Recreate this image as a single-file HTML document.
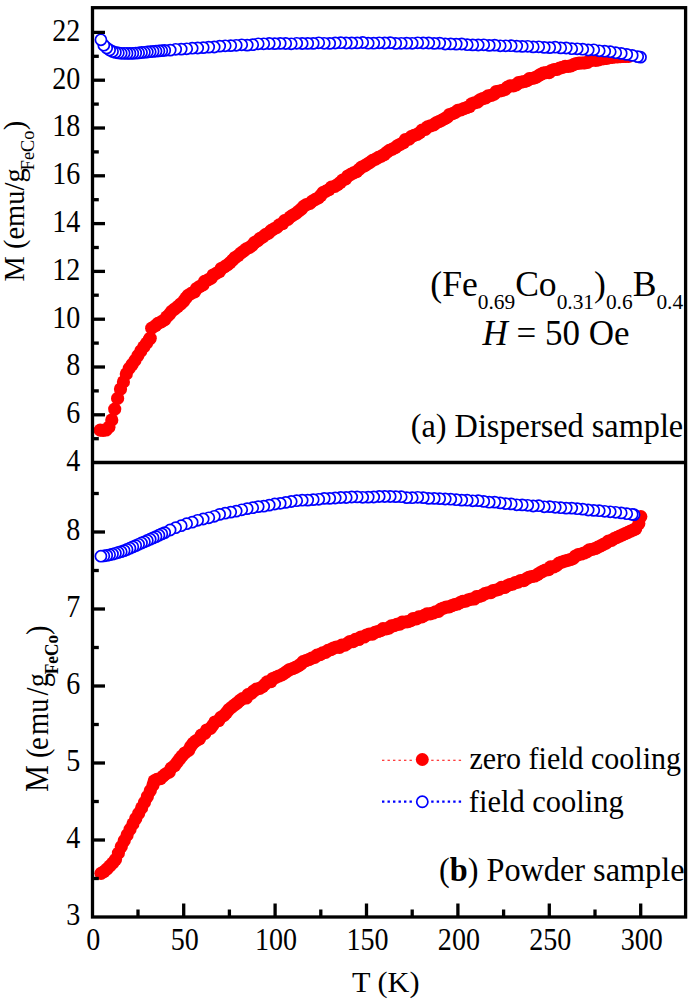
<!DOCTYPE html>
<html lang="en"><head><meta charset="utf-8"><title>M(T) ZFC / FC</title>
<style>html,body{margin:0;padding:0;background:#fff}svg{display:block}text{font-family:"Liberation Serif",serif;fill:#000}</style></head><body>
<svg width="691" height="1000" viewBox="0 0 691 1000">
<rect width="691" height="1000" fill="#fff"/>
<!-- panel (a): zero field cooling -->
<g fill="#f00">
<circle cx="100.2" cy="430.2" r="6.6"/>
<circle cx="103.1" cy="430.4" r="6.6"/>
<circle cx="106" cy="430" r="6.6"/>
<circle cx="108.9" cy="427.2" r="6.6"/>
<circle cx="111.8" cy="419.9" r="6.6"/>
<circle cx="114.7" cy="409.1" r="6.6"/>
<circle cx="117.6" cy="398.4" r="6.6"/>
<circle cx="120.5" cy="389" r="6.6"/>
<circle cx="123.4" cy="381.9" r="6.6"/>
<circle cx="126.3" cy="373.9" r="6.6"/>
<circle cx="129.2" cy="368.4" r="6.6"/>
<circle cx="132.1" cy="364.5" r="6.6"/>
<circle cx="135" cy="360.3" r="6.6"/>
<circle cx="137.9" cy="355.6" r="6.6"/>
<circle cx="140.8" cy="351" r="6.6"/>
<circle cx="143.7" cy="346.9" r="6.6"/>
<circle cx="146.6" cy="343.1" r="6.6"/>
<circle cx="149.5" cy="339.1" r="6.6"/>
<circle cx="150.2" cy="338.2" r="6.6"/>
<circle cx="151.7" cy="328.2" r="6.6"/>
<circle cx="155.5" cy="325.7" r="6.6"/>
<circle cx="158" cy="323.3" r="6.6"/>
<circle cx="161.2" cy="321.9" r="6.6"/>
<circle cx="164.5" cy="319.9" r="6.6"/>
<circle cx="166.7" cy="316.9" r="6.6"/>
<circle cx="169.4" cy="314.4" r="6.6"/>
<circle cx="171.6" cy="311.3" r="6.6"/>
<circle cx="174.6" cy="309" r="6.6"/>
<circle cx="177.6" cy="306.6" r="6.6"/>
<circle cx="180.6" cy="304" r="6.6"/>
<circle cx="183.5" cy="301.4" r="6.6"/>
<circle cx="185.8" cy="298.2" r="6.6"/>
<circle cx="188.1" cy="295.4" r="6.6"/>
<circle cx="191.2" cy="293.3" r="6.6"/>
<circle cx="194.6" cy="291.8" r="6.6"/>
<circle cx="196.6" cy="288.5" r="6.6"/>
<circle cx="199.6" cy="286.5" r="6.6"/>
<circle cx="202.9" cy="284.9" r="6.6"/>
<circle cx="204.6" cy="281.4" r="6.6"/>
<circle cx="208" cy="279.9" r="6.6"/>
<circle cx="211.2" cy="278.2" r="6.6"/>
<circle cx="213.1" cy="275" r="6.6"/>
<circle cx="216.2" cy="273.4" r="6.6"/>
<circle cx="219.4" cy="271.7" r="6.6"/>
<circle cx="221.2" cy="268.5" r="6.6"/>
<circle cx="224.4" cy="266.8" r="6.6"/>
<circle cx="227.4" cy="264.9" r="6.6"/>
<circle cx="230.1" cy="262.6" r="6.6"/>
<circle cx="232.6" cy="260.1" r="6.6"/>
<circle cx="235.1" cy="257.5" r="6.6"/>
<circle cx="238.1" cy="255.6" r="6.6"/>
<circle cx="240.8" cy="253.2" r="6.6"/>
<circle cx="243.6" cy="251.2" r="6.6"/>
<circle cx="246.3" cy="248.9" r="6.6"/>
<circle cx="249.5" cy="247.4" r="6.6"/>
<circle cx="252.2" cy="245.3" r="6.6"/>
<circle cx="254.5" cy="242.5" r="6.6"/>
<circle cx="257.5" cy="240.9" r="6.6"/>
<circle cx="259.9" cy="238.5" r="6.6"/>
<circle cx="262.9" cy="236.8" r="6.6"/>
<circle cx="265.5" cy="234.6" r="6.6"/>
<circle cx="268.6" cy="233.1" r="6.6"/>
<circle cx="271" cy="230.7" r="6.6"/>
<circle cx="273.9" cy="228.9" r="6.6"/>
<circle cx="276.9" cy="227.3" r="6.6"/>
<circle cx="279.3" cy="224.9" r="6.6"/>
<circle cx="282.6" cy="223.6" r="6.6"/>
<circle cx="284.6" cy="220.6" r="6.6"/>
<circle cx="287.9" cy="219.4" r="6.6"/>
<circle cx="290.3" cy="216.9" r="6.6"/>
<circle cx="293.1" cy="215" r="6.6"/>
<circle cx="296" cy="213.3" r="6.6"/>
<circle cx="298.7" cy="211.1" r="6.6"/>
<circle cx="301.3" cy="209" r="6.6"/>
<circle cx="303.6" cy="206.4" r="6.6"/>
<circle cx="306.5" cy="204.5" r="6.6"/>
<circle cx="309.9" cy="203.4" r="6.6"/>
<circle cx="312.4" cy="201.1" r="6.6"/>
<circle cx="315.4" cy="199.4" r="6.6"/>
<circle cx="318.4" cy="197.8" r="6.6"/>
<circle cx="320.8" cy="195.5" r="6.6"/>
<circle cx="322.9" cy="192.7" r="6.6"/>
<circle cx="326" cy="191.1" r="6.6"/>
<circle cx="329" cy="189.6" r="6.6"/>
<circle cx="331.4" cy="187.2" r="6.6"/>
<circle cx="334.9" cy="186.4" r="6.6"/>
<circle cx="337.6" cy="184.5" r="6.6"/>
<circle cx="340.3" cy="182.5" r="6.6"/>
<circle cx="342.6" cy="180.1" r="6.6"/>
<circle cx="345.7" cy="178.8" r="6.6"/>
<circle cx="347.8" cy="176" r="6.6"/>
<circle cx="350.7" cy="174.4" r="6.6"/>
<circle cx="353.6" cy="172.9" r="6.6"/>
<circle cx="356.6" cy="171.6" r="6.6"/>
<circle cx="359.1" cy="169.4" r="6.6"/>
<circle cx="361.6" cy="167.2" r="6.6"/>
<circle cx="364.5" cy="165.8" r="6.6"/>
<circle cx="367.2" cy="164.1" r="6.6"/>
<circle cx="370" cy="162.3" r="6.6"/>
<circle cx="372.6" cy="160.4" r="6.6"/>
<circle cx="375.6" cy="159.1" r="6.6"/>
<circle cx="378.4" cy="157.4" r="6.6"/>
<circle cx="381.4" cy="156.2" r="6.6"/>
<circle cx="384.2" cy="154.5" r="6.6"/>
<circle cx="386.7" cy="152.3" r="6.6"/>
<circle cx="389.4" cy="150.4" r="6.6"/>
<circle cx="392.4" cy="149.1" r="6.6"/>
<circle cx="395.3" cy="147.6" r="6.6"/>
<circle cx="397.8" cy="145.5" r="6.6"/>
<circle cx="400.7" cy="144" r="6.6"/>
<circle cx="403.6" cy="142.6" r="6.6"/>
<circle cx="405.5" cy="139.5" r="6.6"/>
<circle cx="409" cy="139.2" r="6.6"/>
<circle cx="411.2" cy="136.7" r="6.6"/>
<circle cx="414.1" cy="135.4" r="6.6"/>
<circle cx="417.2" cy="134.3" r="6.6"/>
<circle cx="419.8" cy="132.6" r="6.6"/>
<circle cx="422.1" cy="130.2" r="6.6"/>
<circle cx="425.3" cy="129.4" r="6.6"/>
<circle cx="427.5" cy="126.9" r="6.6"/>
<circle cx="430.5" cy="125.8" r="6.6"/>
<circle cx="433.7" cy="124.9" r="6.6"/>
<circle cx="436.1" cy="122.8" r="6.6"/>
<circle cx="439" cy="121.5" r="6.6"/>
<circle cx="441.9" cy="120.1" r="6.6"/>
<circle cx="444.7" cy="118.7" r="6.6"/>
<circle cx="447.4" cy="117.1" r="6.6"/>
<circle cx="449.5" cy="114.5" r="6.6"/>
<circle cx="452.6" cy="113.7" r="6.6"/>
<circle cx="455.4" cy="112.4" r="6.6"/>
<circle cx="457.8" cy="110.4" r="6.6"/>
<circle cx="460.9" cy="109.8" r="6.6"/>
<circle cx="463.7" cy="108.6" r="6.6"/>
<circle cx="466.7" cy="107.6" r="6.6"/>
<circle cx="469.5" cy="106.5" r="6.6"/>
<circle cx="471.6" cy="103.9" r="6.6"/>
<circle cx="474.4" cy="102.8" r="6.6"/>
<circle cx="477.5" cy="102.1" r="6.6"/>
<circle cx="479.9" cy="99.9" r="6.6"/>
<circle cx="482.7" cy="98.7" r="6.6"/>
<circle cx="485.7" cy="97.9" r="6.6"/>
<circle cx="488.1" cy="95.8" r="6.6"/>
<circle cx="491.4" cy="95.4" r="6.6"/>
<circle cx="494.2" cy="94.1" r="6.6"/>
<circle cx="496.3" cy="91.5" r="6.6"/>
<circle cx="499.4" cy="91" r="6.6"/>
<circle cx="502.4" cy="90.3" r="6.6"/>
<circle cx="505.2" cy="89.4" r="6.6"/>
<circle cx="507.5" cy="87.1" r="6.6"/>
<circle cx="510.2" cy="85.8" r="6.6"/>
<circle cx="513.4" cy="85.9" r="6.6"/>
<circle cx="516.2" cy="84.9" r="6.6"/>
<circle cx="518.5" cy="82.7" r="6.6"/>
<circle cx="521.4" cy="82.1" r="6.6"/>
<circle cx="524.3" cy="81.5" r="6.6"/>
<circle cx="527.1" cy="80.7" r="6.6"/>
<circle cx="529.4" cy="78.6" r="6.6"/>
<circle cx="532.5" cy="78.4" r="6.6"/>
<circle cx="535.3" cy="77.6" r="6.6"/>
<circle cx="537.9" cy="76.1" r="6.6"/>
<circle cx="540.4" cy="74.5" r="6.6"/>
<circle cx="543.1" cy="73.2" r="6.6"/>
<circle cx="546" cy="72.7" r="6.6"/>
<circle cx="549.1" cy="72.7" r="6.6"/>
<circle cx="551.4" cy="70.5" r="6.6"/>
<circle cx="554.1" cy="69.6" r="6.6"/>
<circle cx="557.1" cy="69.3" r="6.6"/>
<circle cx="559.7" cy="68" r="6.6"/>
<circle cx="562.5" cy="67.3" r="6.6"/>
<circle cx="565.2" cy="66.3" r="6.6"/>
<circle cx="568.2" cy="66.4" r="6.6"/>
<circle cx="571" cy="65.9" r="6.6"/>
<circle cx="573.6" cy="64.7" r="6.6"/>
<circle cx="576.2" cy="63.5" r="6.6"/>
<circle cx="579.1" cy="63.2" r="6.6"/>
<circle cx="581.9" cy="63" r="6.6"/>
<circle cx="584.8" cy="62.9" r="6.6"/>
<circle cx="587.6" cy="62.4" r="6.6"/>
<circle cx="590.1" cy="60.7" r="6.6"/>
<circle cx="592.8" cy="59.9" r="6.6"/>
<circle cx="595.7" cy="60.3" r="6.6"/>
<circle cx="598.5" cy="59.9" r="6.6"/>
<circle cx="601.1" cy="59" r="6.6"/>
<circle cx="603.9" cy="58.7" r="6.6"/>
<circle cx="606.7" cy="58.3" r="6.6"/>
<circle cx="609.4" cy="57.7" r="6.6"/>
<circle cx="612.2" cy="57.4" r="6.6"/>
<circle cx="614.9" cy="56.9" r="6.6"/>
<circle cx="617.6" cy="56.8" r="6.6"/>
<circle cx="620.4" cy="56.7" r="6.6"/>
<circle cx="623.2" cy="56.5" r="6.6"/>
<circle cx="625.9" cy="56.4" r="6.6"/>
<circle cx="628.7" cy="56.4" r="6.6"/>
</g>
<!-- panel (a): field cooling -->
<g fill="#fff" stroke="#00f" stroke-width="1.7">
<circle cx="640.5" cy="57.2" r="5.55"/>
<circle cx="637.7" cy="56.6" r="5.55"/>
<circle cx="632.2" cy="55.4" r="5.55"/>
<circle cx="626.7" cy="54.4" r="5.55"/>
<circle cx="621.2" cy="53.4" r="5.55"/>
<circle cx="615.7" cy="52.7" r="5.55"/>
<circle cx="610.2" cy="51.7" r="5.55"/>
<circle cx="604.7" cy="51.2" r="5.55"/>
<circle cx="599.2" cy="50.8" r="5.55"/>
<circle cx="593.7" cy="49.8" r="5.55"/>
<circle cx="588.2" cy="50" r="5.55"/>
<circle cx="582.7" cy="49.2" r="5.55"/>
<circle cx="577.2" cy="48.8" r="5.55"/>
<circle cx="571.7" cy="48.7" r="5.55"/>
<circle cx="566.2" cy="48" r="5.55"/>
<circle cx="560.7" cy="47.9" r="5.55"/>
<circle cx="555.2" cy="47.2" r="5.55"/>
<circle cx="549.7" cy="47.6" r="5.55"/>
<circle cx="544.2" cy="47.4" r="5.55"/>
<circle cx="538.7" cy="46.8" r="5.55"/>
<circle cx="533.2" cy="46.9" r="5.55"/>
<circle cx="527.7" cy="46.3" r="5.55"/>
<circle cx="522.2" cy="46.4" r="5.55"/>
<circle cx="516.7" cy="46.1" r="5.55"/>
<circle cx="511.2" cy="45.7" r="5.55"/>
<circle cx="505.7" cy="45.8" r="5.55"/>
<circle cx="500.2" cy="45.8" r="5.55"/>
<circle cx="494.7" cy="45.1" r="5.55"/>
<circle cx="489.2" cy="45.4" r="5.55"/>
<circle cx="483.7" cy="44.8" r="5.55"/>
<circle cx="478.2" cy="45" r="5.55"/>
<circle cx="472.7" cy="44.9" r="5.55"/>
<circle cx="467.2" cy="44.7" r="5.55"/>
<circle cx="461.7" cy="44" r="5.55"/>
<circle cx="456.2" cy="44.1" r="5.55"/>
<circle cx="450.7" cy="43.9" r="5.55"/>
<circle cx="445.2" cy="44" r="5.55"/>
<circle cx="439.7" cy="43.1" r="5.55"/>
<circle cx="434.2" cy="43.4" r="5.55"/>
<circle cx="428.7" cy="43" r="5.55"/>
<circle cx="423.2" cy="43" r="5.55"/>
<circle cx="417.7" cy="42.8" r="5.55"/>
<circle cx="412.2" cy="43.3" r="5.55"/>
<circle cx="406.7" cy="43.1" r="5.55"/>
<circle cx="401.2" cy="43.3" r="5.55"/>
<circle cx="395.7" cy="43.4" r="5.55"/>
<circle cx="390.2" cy="42.6" r="5.55"/>
<circle cx="384.7" cy="43" r="5.55"/>
<circle cx="379.2" cy="42.8" r="5.55"/>
<circle cx="373.7" cy="43.2" r="5.55"/>
<circle cx="368.2" cy="43.2" r="5.55"/>
<circle cx="362.7" cy="42.5" r="5.55"/>
<circle cx="357.2" cy="42.9" r="5.55"/>
<circle cx="351.7" cy="43" r="5.55"/>
<circle cx="346.2" cy="43" r="5.55"/>
<circle cx="340.7" cy="42.7" r="5.55"/>
<circle cx="335.2" cy="43" r="5.55"/>
<circle cx="329.7" cy="43.4" r="5.55"/>
<circle cx="324.2" cy="43.3" r="5.55"/>
<circle cx="318.7" cy="42.8" r="5.55"/>
<circle cx="313.2" cy="43.4" r="5.55"/>
<circle cx="307.7" cy="43.4" r="5.55"/>
<circle cx="302.2" cy="43.5" r="5.55"/>
<circle cx="296.7" cy="43.3" r="5.55"/>
<circle cx="291.2" cy="43.8" r="5.55"/>
<circle cx="285.7" cy="43.5" r="5.55"/>
<circle cx="280.2" cy="43.4" r="5.55"/>
<circle cx="274.7" cy="43.6" r="5.55"/>
<circle cx="269.2" cy="43.5" r="5.55"/>
<circle cx="263.7" cy="43.8" r="5.55"/>
<circle cx="258.2" cy="43.8" r="5.55"/>
<circle cx="252.7" cy="44.7" r="5.55"/>
<circle cx="247.2" cy="45.1" r="5.55"/>
<circle cx="241.7" cy="44.8" r="5.55"/>
<circle cx="236.2" cy="45.3" r="5.55"/>
<circle cx="230.7" cy="45.6" r="5.55"/>
<circle cx="225.2" cy="45.8" r="5.55"/>
<circle cx="219.7" cy="46.1" r="5.55"/>
<circle cx="214.2" cy="47" r="5.55"/>
<circle cx="208.7" cy="47.1" r="5.55"/>
<circle cx="203.2" cy="47.6" r="5.55"/>
<circle cx="197.7" cy="48" r="5.55"/>
<circle cx="192.2" cy="48.2" r="5.55"/>
<circle cx="186.7" cy="48.8" r="5.55"/>
<circle cx="181.2" cy="49.1" r="5.55"/>
<circle cx="175.7" cy="49.3" r="5.55"/>
<circle cx="170.2" cy="50.1" r="5.55"/>
<circle cx="164.7" cy="50.4" r="5.55"/>
<circle cx="161.8" cy="50.7" r="5.55"/>
<circle cx="158.9" cy="50.9" r="5.55"/>
<circle cx="156" cy="51.2" r="5.55"/>
<circle cx="153.1" cy="51.4" r="5.55"/>
<circle cx="150.2" cy="51.7" r="5.55"/>
<circle cx="147.3" cy="52" r="5.55"/>
<circle cx="144.4" cy="52.3" r="5.55"/>
<circle cx="141.5" cy="52.5" r="5.55"/>
<circle cx="138.6" cy="52.9" r="5.55"/>
<circle cx="135.7" cy="53.1" r="5.55"/>
<circle cx="132.8" cy="53.3" r="5.55"/>
<circle cx="129.9" cy="53.4" r="5.55"/>
<circle cx="127" cy="53.4" r="5.55"/>
<circle cx="124.1" cy="53.3" r="5.55"/>
<circle cx="121.2" cy="53.3" r="5.55"/>
<circle cx="118.3" cy="52.9" r="5.55"/>
<circle cx="115.4" cy="52.4" r="5.55"/>
<circle cx="112.5" cy="51.5" r="5.55"/>
<circle cx="109.6" cy="50" r="5.55"/>
<circle cx="106.7" cy="48" r="5.55"/>
<circle cx="103.8" cy="45.2" r="5.55"/>
<circle cx="100.9" cy="39.8" r="5.55"/>
</g>
<!-- panel (b): zero field cooling -->
<g fill="#f00">
<circle cx="101" cy="873.3" r="6.6"/>
<circle cx="103.9" cy="871.7" r="6.6"/>
<circle cx="106.8" cy="869.1" r="6.6"/>
<circle cx="109.7" cy="866.1" r="6.6"/>
<circle cx="112.6" cy="863.2" r="6.6"/>
<circle cx="115.5" cy="859.5" r="6.6"/>
<circle cx="118.4" cy="853.1" r="6.6"/>
<circle cx="121.3" cy="846.6" r="6.6"/>
<circle cx="124.2" cy="840.7" r="6.6"/>
<circle cx="127.1" cy="835" r="6.6"/>
<circle cx="130" cy="829.4" r="6.6"/>
<circle cx="132.9" cy="823.9" r="6.6"/>
<circle cx="135.8" cy="818.5" r="6.6"/>
<circle cx="138.7" cy="813.3" r="6.6"/>
<circle cx="141.6" cy="807.9" r="6.6"/>
<circle cx="144.5" cy="802.3" r="6.6"/>
<circle cx="147.4" cy="796.5" r="6.6"/>
<circle cx="150.3" cy="790.6" r="6.6"/>
<circle cx="153" cy="785" r="6.6"/>
<circle cx="154.2" cy="780.9" r="6.6"/>
<circle cx="157" cy="779.3" r="6.6"/>
<circle cx="160.5" cy="778.7" r="6.6"/>
<circle cx="163.1" cy="776.1" r="6.6"/>
<circle cx="165.8" cy="773.8" r="6.6"/>
<circle cx="169.2" cy="772" r="6.6"/>
<circle cx="171.2" cy="768.2" r="6.6"/>
<circle cx="174.7" cy="765.5" r="6.6"/>
<circle cx="177.1" cy="762.3" r="6.6"/>
<circle cx="179.5" cy="759.2" r="6.6"/>
<circle cx="181.9" cy="756.1" r="6.6"/>
<circle cx="184.8" cy="753" r="6.6"/>
<circle cx="188.6" cy="750.4" r="6.6"/>
<circle cx="190.6" cy="746.6" r="6.6"/>
<circle cx="193" cy="743.4" r="6.6"/>
<circle cx="195.9" cy="740.8" r="6.6"/>
<circle cx="199.5" cy="738.8" r="6.6"/>
<circle cx="201.3" cy="735.2" r="6.6"/>
<circle cx="204.8" cy="733.4" r="6.6"/>
<circle cx="206.7" cy="730" r="6.6"/>
<circle cx="210.5" cy="728.4" r="6.6"/>
<circle cx="212.7" cy="725.3" r="6.6"/>
<circle cx="214.9" cy="722" r="6.6"/>
<circle cx="218.7" cy="720.6" r="6.6"/>
<circle cx="220.8" cy="717.3" r="6.6"/>
<circle cx="224" cy="715.3" r="6.6"/>
<circle cx="226.5" cy="712.6" r="6.6"/>
<circle cx="228.7" cy="709.6" r="6.6"/>
<circle cx="231.5" cy="707.3" r="6.6"/>
<circle cx="234.3" cy="705.1" r="6.6"/>
<circle cx="237.1" cy="703" r="6.6"/>
<circle cx="239.7" cy="700.7" r="6.6"/>
<circle cx="242.5" cy="698.6" r="6.6"/>
<circle cx="246.2" cy="698" r="6.6"/>
<circle cx="248" cy="694.7" r="6.6"/>
<circle cx="251.2" cy="693.4" r="6.6"/>
<circle cx="253.6" cy="691" r="6.6"/>
<circle cx="256.4" cy="689.2" r="6.6"/>
<circle cx="259.7" cy="688.3" r="6.6"/>
<circle cx="262.6" cy="686.7" r="6.6"/>
<circle cx="264.9" cy="684.3" r="6.6"/>
<circle cx="267.2" cy="681.8" r="6.6"/>
<circle cx="270.9" cy="681.7" r="6.6"/>
<circle cx="272.8" cy="678.5" r="6.6"/>
<circle cx="275.8" cy="677.4" r="6.6"/>
<circle cx="278.7" cy="676" r="6.6"/>
<circle cx="281.8" cy="674.9" r="6.6"/>
<circle cx="284.5" cy="673.2" r="6.6"/>
<circle cx="287" cy="671.4" r="6.6"/>
<circle cx="289.6" cy="669.5" r="6.6"/>
<circle cx="292.7" cy="668.7" r="6.6"/>
<circle cx="295.5" cy="667.3" r="6.6"/>
<circle cx="298.3" cy="665.8" r="6.6"/>
<circle cx="300.9" cy="664.1" r="6.6"/>
<circle cx="303.1" cy="661.7" r="6.6"/>
<circle cx="306" cy="660.6" r="6.6"/>
<circle cx="308.9" cy="659.5" r="6.6"/>
<circle cx="311.7" cy="658.2" r="6.6"/>
<circle cx="314.7" cy="657.4" r="6.6"/>
<circle cx="317" cy="655.1" r="6.6"/>
<circle cx="320.1" cy="654.6" r="6.6"/>
<circle cx="322.6" cy="652.9" r="6.6"/>
<circle cx="325.6" cy="652.4" r="6.6"/>
<circle cx="328" cy="650.3" r="6.6"/>
<circle cx="330.9" cy="649.7" r="6.6"/>
<circle cx="333.4" cy="648" r="6.6"/>
<circle cx="336.3" cy="647.1" r="6.6"/>
<circle cx="339.5" cy="647.3" r="6.6"/>
<circle cx="341.8" cy="645.2" r="6.6"/>
<circle cx="345" cy="645.1" r="6.6"/>
<circle cx="347.5" cy="643.4" r="6.6"/>
<circle cx="349.9" cy="641.5" r="6.6"/>
<circle cx="353.1" cy="641.7" r="6.6"/>
<circle cx="355.4" cy="639.3" r="6.6"/>
<circle cx="358.7" cy="639.5" r="6.6"/>
<circle cx="360.9" cy="637" r="6.6"/>
<circle cx="364.1" cy="637" r="6.6"/>
<circle cx="366.5" cy="635" r="6.6"/>
<circle cx="369.3" cy="634.2" r="6.6"/>
<circle cx="372.5" cy="634.1" r="6.6"/>
<circle cx="374.9" cy="632.3" r="6.6"/>
<circle cx="377.8" cy="631.5" r="6.6"/>
<circle cx="380.6" cy="630.6" r="6.6"/>
<circle cx="383" cy="628.6" r="6.6"/>
<circle cx="386.1" cy="628.9" r="6.6"/>
<circle cx="388.9" cy="628.1" r="6.6"/>
<circle cx="391.3" cy="625.9" r="6.6"/>
<circle cx="394.2" cy="625.7" r="6.6"/>
<circle cx="396.8" cy="624.3" r="6.6"/>
<circle cx="399.8" cy="624.2" r="6.6"/>
<circle cx="402.2" cy="622.1" r="6.6"/>
<circle cx="405.2" cy="622" r="6.6"/>
<circle cx="408.1" cy="621.6" r="6.6"/>
<circle cx="410.8" cy="620.6" r="6.6"/>
<circle cx="413.2" cy="618.5" r="6.6"/>
<circle cx="416.4" cy="618.8" r="6.6"/>
<circle cx="418.8" cy="616.9" r="6.6"/>
<circle cx="421.9" cy="616.9" r="6.6"/>
<circle cx="424.4" cy="615.4" r="6.6"/>
<circle cx="427" cy="613.8" r="6.6"/>
<circle cx="430.1" cy="613.8" r="6.6"/>
<circle cx="432.9" cy="613" r="6.6"/>
<circle cx="435.6" cy="611.8" r="6.6"/>
<circle cx="438.5" cy="611.3" r="6.6"/>
<circle cx="440.8" cy="609.2" r="6.6"/>
<circle cx="443.5" cy="608.2" r="6.6"/>
<circle cx="446.2" cy="607.1" r="6.6"/>
<circle cx="449.2" cy="606.9" r="6.6"/>
<circle cx="451.9" cy="605.7" r="6.6"/>
<circle cx="454.6" cy="604.7" r="6.6"/>
<circle cx="457.4" cy="604" r="6.6"/>
<circle cx="460.1" cy="602.7" r="6.6"/>
<circle cx="462.7" cy="601.3" r="6.6"/>
<circle cx="465.7" cy="601.2" r="6.6"/>
<circle cx="468.3" cy="599.9" r="6.6"/>
<circle cx="471.2" cy="599.2" r="6.6"/>
<circle cx="474.2" cy="599" r="6.6"/>
<circle cx="476.5" cy="596.7" r="6.6"/>
<circle cx="479.5" cy="596.4" r="6.6"/>
<circle cx="482.3" cy="595.3" r="6.6"/>
<circle cx="484.8" cy="593.7" r="6.6"/>
<circle cx="487.7" cy="592.9" r="6.6"/>
<circle cx="490.8" cy="592.7" r="6.6"/>
<circle cx="493.1" cy="590.5" r="6.6"/>
<circle cx="496.1" cy="590.1" r="6.6"/>
<circle cx="498.9" cy="589.3" r="6.6"/>
<circle cx="501.4" cy="587.4" r="6.6"/>
<circle cx="504.5" cy="587.5" r="6.6"/>
<circle cx="507" cy="585.9" r="6.6"/>
<circle cx="509.7" cy="584.7" r="6.6"/>
<circle cx="512.6" cy="584.1" r="6.6"/>
<circle cx="515.2" cy="582.7" r="6.6"/>
<circle cx="518.1" cy="582.2" r="6.6"/>
<circle cx="520.6" cy="580.5" r="6.6"/>
<circle cx="523.7" cy="580.6" r="6.6"/>
<circle cx="526.2" cy="578.9" r="6.6"/>
<circle cx="528.8" cy="577.3" r="6.6"/>
<circle cx="531.7" cy="576.5" r="6.6"/>
<circle cx="534.7" cy="576" r="6.6"/>
<circle cx="537.4" cy="574.6" r="6.6"/>
<circle cx="539.9" cy="572.8" r="6.6"/>
<circle cx="542.6" cy="571.3" r="6.6"/>
<circle cx="545.4" cy="570" r="6.6"/>
<circle cx="548.6" cy="569.6" r="6.6"/>
<circle cx="550.6" cy="566.9" r="6.6"/>
<circle cx="554" cy="566.8" r="6.6"/>
<circle cx="556.7" cy="565.4" r="6.6"/>
<circle cx="559" cy="563.1" r="6.6"/>
<circle cx="561.8" cy="562.1" r="6.6"/>
<circle cx="564.8" cy="561.2" r="6.6"/>
<circle cx="567.7" cy="560.4" r="6.6"/>
<circle cx="570.5" cy="559.5" r="6.6"/>
<circle cx="573.3" cy="558.4" r="6.6"/>
<circle cx="575.5" cy="556" r="6.6"/>
<circle cx="578.2" cy="554.7" r="6.6"/>
<circle cx="581.2" cy="554" r="6.6"/>
<circle cx="584" cy="553" r="6.6"/>
<circle cx="586.8" cy="551.9" r="6.6"/>
<circle cx="589.2" cy="549.8" r="6.6"/>
<circle cx="592.3" cy="549.4" r="6.6"/>
<circle cx="595.2" cy="548.5" r="6.6"/>
<circle cx="597.9" cy="547.1" r="6.6"/>
<circle cx="600.7" cy="545.8" r="6.6"/>
<circle cx="603.4" cy="544.4" r="6.6"/>
<circle cx="606.1" cy="543.1" r="6.6"/>
<circle cx="608.5" cy="541" r="6.6"/>
<circle cx="611.6" cy="540.3" r="6.6"/>
<circle cx="614.1" cy="538.6" r="6.6"/>
<circle cx="616.9" cy="537.4" r="6.6"/>
<circle cx="619.7" cy="536.1" r="6.6"/>
<circle cx="622.5" cy="534.9" r="6.6"/>
<circle cx="625.2" cy="533.6" r="6.6"/>
<circle cx="628" cy="532.3" r="6.6"/>
<circle cx="630.7" cy="531" r="6.6"/>
<circle cx="633.5" cy="529.8" r="6.6"/>
<circle cx="635.7" cy="528.8" r="6.6"/>
<circle cx="638.8" cy="523.6" r="6.6"/>
<circle cx="640.8" cy="516.6" r="6.6"/>
</g>
<!-- panel (b): field cooling -->
<g fill="#fff" stroke="#00f" stroke-width="1.7">
<circle cx="634.1" cy="514.7" r="5.55"/>
<circle cx="632.2" cy="514.4" r="5.55"/>
<circle cx="626.7" cy="513.7" r="5.55"/>
<circle cx="621.2" cy="512.9" r="5.55"/>
<circle cx="615.7" cy="512.3" r="5.55"/>
<circle cx="610.2" cy="511.8" r="5.55"/>
<circle cx="604.7" cy="511.3" r="5.55"/>
<circle cx="599.2" cy="510.7" r="5.55"/>
<circle cx="593.7" cy="510.4" r="5.55"/>
<circle cx="588.2" cy="510" r="5.55"/>
<circle cx="582.7" cy="509.1" r="5.55"/>
<circle cx="577.2" cy="508.7" r="5.55"/>
<circle cx="571.7" cy="508.1" r="5.55"/>
<circle cx="566.2" cy="508.1" r="5.55"/>
<circle cx="560.7" cy="507.7" r="5.55"/>
<circle cx="555.2" cy="507.3" r="5.55"/>
<circle cx="549.7" cy="506.6" r="5.55"/>
<circle cx="544.2" cy="506.8" r="5.55"/>
<circle cx="538.7" cy="505.7" r="5.55"/>
<circle cx="533.2" cy="506" r="5.55"/>
<circle cx="527.7" cy="505.3" r="5.55"/>
<circle cx="522.2" cy="504.9" r="5.55"/>
<circle cx="516.7" cy="504.8" r="5.55"/>
<circle cx="511.2" cy="503.9" r="5.55"/>
<circle cx="505.7" cy="503.6" r="5.55"/>
<circle cx="500.2" cy="502.9" r="5.55"/>
<circle cx="494.7" cy="502.1" r="5.55"/>
<circle cx="489.2" cy="502.2" r="5.55"/>
<circle cx="483.7" cy="501.4" r="5.55"/>
<circle cx="478.2" cy="500.6" r="5.55"/>
<circle cx="472.7" cy="500.8" r="5.55"/>
<circle cx="467.2" cy="500.2" r="5.55"/>
<circle cx="461.7" cy="500.1" r="5.55"/>
<circle cx="456.2" cy="499.7" r="5.55"/>
<circle cx="450.7" cy="499.2" r="5.55"/>
<circle cx="445.2" cy="499" r="5.55"/>
<circle cx="439.7" cy="498.6" r="5.55"/>
<circle cx="434.2" cy="498.4" r="5.55"/>
<circle cx="428.7" cy="498.4" r="5.55"/>
<circle cx="423.2" cy="497.6" r="5.55"/>
<circle cx="417.7" cy="497.3" r="5.55"/>
<circle cx="412.2" cy="497.7" r="5.55"/>
<circle cx="406.7" cy="497.6" r="5.55"/>
<circle cx="401.2" cy="496.7" r="5.55"/>
<circle cx="395.7" cy="496.6" r="5.55"/>
<circle cx="390.2" cy="496.5" r="5.55"/>
<circle cx="384.7" cy="496.5" r="5.55"/>
<circle cx="379.2" cy="496.5" r="5.55"/>
<circle cx="373.7" cy="497" r="5.55"/>
<circle cx="368.2" cy="497.1" r="5.55"/>
<circle cx="362.7" cy="497.3" r="5.55"/>
<circle cx="357.2" cy="496.9" r="5.55"/>
<circle cx="351.7" cy="497" r="5.55"/>
<circle cx="346.2" cy="497.5" r="5.55"/>
<circle cx="340.7" cy="497.5" r="5.55"/>
<circle cx="335.2" cy="498" r="5.55"/>
<circle cx="329.7" cy="498.4" r="5.55"/>
<circle cx="324.2" cy="498.4" r="5.55"/>
<circle cx="318.7" cy="499.3" r="5.55"/>
<circle cx="313.2" cy="499.6" r="5.55"/>
<circle cx="307.7" cy="500.1" r="5.55"/>
<circle cx="302.2" cy="500.2" r="5.55"/>
<circle cx="296.7" cy="500.7" r="5.55"/>
<circle cx="291.2" cy="501.5" r="5.55"/>
<circle cx="285.7" cy="502.4" r="5.55"/>
<circle cx="280.2" cy="503.4" r="5.55"/>
<circle cx="274.7" cy="504" r="5.55"/>
<circle cx="269.2" cy="505.1" r="5.55"/>
<circle cx="263.7" cy="506.2" r="5.55"/>
<circle cx="258.2" cy="506.6" r="5.55"/>
<circle cx="252.7" cy="507.7" r="5.55"/>
<circle cx="247.2" cy="508.6" r="5.55"/>
<circle cx="241.7" cy="509.8" r="5.55"/>
<circle cx="236.2" cy="511.1" r="5.55"/>
<circle cx="230.7" cy="512.1" r="5.55"/>
<circle cx="225.1" cy="513.2" r="5.55"/>
<circle cx="219.6" cy="514.4" r="5.55"/>
<circle cx="214.3" cy="516.3" r="5.55"/>
<circle cx="208.8" cy="517.8" r="5.55"/>
<circle cx="203.2" cy="519" r="5.55"/>
<circle cx="197.6" cy="520.3" r="5.55"/>
<circle cx="192.2" cy="522.2" r="5.55"/>
<circle cx="186.6" cy="523.7" r="5.55"/>
<circle cx="181.2" cy="525.7" r="5.55"/>
<circle cx="175.6" cy="527.7" r="5.55"/>
<circle cx="170.1" cy="530" r="5.55"/>
<circle cx="164.7" cy="532.6" r="5.55"/>
<circle cx="161.8" cy="533.9" r="5.55"/>
<circle cx="158.9" cy="535.2" r="5.55"/>
<circle cx="156" cy="536.6" r="5.55"/>
<circle cx="153.1" cy="537.9" r="5.55"/>
<circle cx="150.2" cy="539.2" r="5.55"/>
<circle cx="147.3" cy="540.5" r="5.55"/>
<circle cx="144.4" cy="541.8" r="5.55"/>
<circle cx="141.5" cy="543" r="5.55"/>
<circle cx="138.6" cy="544.3" r="5.55"/>
<circle cx="135.7" cy="545.6" r="5.55"/>
<circle cx="132.8" cy="546.9" r="5.55"/>
<circle cx="129.9" cy="548.2" r="5.55"/>
<circle cx="127" cy="549.5" r="5.55"/>
<circle cx="124.1" cy="550.6" r="5.55"/>
<circle cx="121.2" cy="551.7" r="5.55"/>
<circle cx="118.3" cy="552.5" r="5.55"/>
<circle cx="115.4" cy="553.3" r="5.55"/>
<circle cx="112.5" cy="554.1" r="5.55"/>
<circle cx="109.6" cy="554.8" r="5.55"/>
<circle cx="106.7" cy="555.4" r="5.55"/>
<circle cx="103.8" cy="555.9" r="5.55"/>
<circle cx="100.9" cy="556.2" r="5.55"/>
</g>
<g stroke="#000" stroke-width="3.3" fill="none" stroke-linecap="butt">
<rect x="92.5" y="7.7" width="593.1" height="909.3"/>
<line x1="92.5" y1="462.5" x2="685.6" y2="462.5"/>
<line x1="92.5" y1="438.7" x2="98.8" y2="438.7"/>
<line x1="92.5" y1="414.8" x2="105" y2="414.8"/>
<line x1="92.5" y1="390.9" x2="98.8" y2="390.9"/>
<line x1="92.5" y1="367" x2="105" y2="367"/>
<line x1="92.5" y1="343.1" x2="98.8" y2="343.1"/>
<line x1="92.5" y1="319.2" x2="105" y2="319.2"/>
<line x1="92.5" y1="295.2" x2="98.8" y2="295.2"/>
<line x1="92.5" y1="271.4" x2="105" y2="271.4"/>
<line x1="92.5" y1="247.5" x2="98.8" y2="247.5"/>
<line x1="92.5" y1="223.6" x2="105" y2="223.6"/>
<line x1="92.5" y1="199.7" x2="98.8" y2="199.7"/>
<line x1="92.5" y1="175.8" x2="105" y2="175.8"/>
<line x1="92.5" y1="151.9" x2="98.8" y2="151.9"/>
<line x1="92.5" y1="128" x2="105" y2="128"/>
<line x1="92.5" y1="104.1" x2="98.8" y2="104.1"/>
<line x1="92.5" y1="80.2" x2="105" y2="80.2"/>
<line x1="92.5" y1="56.3" x2="98.8" y2="56.3"/>
<line x1="92.5" y1="32.4" x2="105" y2="32.4"/>
<line x1="92.5" y1="878.5" x2="98.8" y2="878.5"/>
<line x1="92.5" y1="840" x2="105" y2="840"/>
<line x1="92.5" y1="801.5" x2="98.8" y2="801.5"/>
<line x1="92.5" y1="763" x2="105" y2="763"/>
<line x1="92.5" y1="724.5" x2="98.8" y2="724.5"/>
<line x1="92.5" y1="686" x2="105" y2="686"/>
<line x1="92.5" y1="647.5" x2="98.8" y2="647.5"/>
<line x1="92.5" y1="609" x2="105" y2="609"/>
<line x1="92.5" y1="570.5" x2="98.8" y2="570.5"/>
<line x1="92.5" y1="532" x2="105" y2="532"/>
<line x1="92.5" y1="493.5" x2="98.8" y2="493.5"/>
<line x1="138" y1="917.0" x2="138" y2="909.5"/>
<line x1="183.7" y1="917.0" x2="183.7" y2="903.5"/>
<line x1="229.4" y1="917.0" x2="229.4" y2="909.5"/>
<line x1="275.1" y1="917.0" x2="275.1" y2="903.5"/>
<line x1="320.8" y1="917.0" x2="320.8" y2="909.5"/>
<line x1="366.5" y1="917.0" x2="366.5" y2="903.5"/>
<line x1="412.2" y1="917.0" x2="412.2" y2="909.5"/>
<line x1="457.9" y1="917.0" x2="457.9" y2="903.5"/>
<line x1="503.6" y1="917.0" x2="503.6" y2="909.5"/>
<line x1="549.3" y1="917.0" x2="549.3" y2="903.5"/>
<line x1="595" y1="917.0" x2="595" y2="909.5"/>
<line x1="640.7" y1="917.0" x2="640.7" y2="903.5"/>
</g>
<g font-size="31" text-anchor="end">
<text transform="translate(80.2,470.9) scale(0.905,1)">4</text>
<text transform="translate(80.2,423.1) scale(0.905,1)">6</text>
<text transform="translate(80.2,375.3) scale(0.905,1)">8</text>
<text transform="translate(80.2,327.5) scale(0.905,1)">10</text>
<text transform="translate(80.2,279.7) scale(0.905,1)">12</text>
<text transform="translate(80.2,231.9) scale(0.905,1)">14</text>
<text transform="translate(80.2,184.1) scale(0.905,1)">16</text>
<text transform="translate(80.2,136.3) scale(0.905,1)">18</text>
<text transform="translate(80.2,88.5) scale(0.905,1)">20</text>
<text transform="translate(80.2,40.7) scale(0.905,1)">22</text>
<text transform="translate(80.2,925.3) scale(0.905,1)">3</text>
<text transform="translate(80.2,848.3) scale(0.905,1)">4</text>
<text transform="translate(80.2,771.3) scale(0.905,1)">5</text>
<text transform="translate(80.2,694.3) scale(0.905,1)">6</text>
<text transform="translate(80.2,617.3) scale(0.905,1)">7</text>
<text transform="translate(80.2,540.3) scale(0.905,1)">8</text>
</g>
<g font-size="31" text-anchor="middle">
<text transform="translate(93.3,949.9) scale(0.905,1)">0</text>
<text transform="translate(184.7,949.9) scale(0.905,1)">50</text>
<text transform="translate(276.1,949.9) scale(0.905,1)">100</text>
<text transform="translate(367.5,949.9) scale(0.905,1)">150</text>
<text transform="translate(458.9,949.9) scale(0.905,1)">200</text>
<text transform="translate(550.3,949.9) scale(0.905,1)">250</text>
<text transform="translate(641.7,949.9) scale(0.905,1)">300</text>
</g>
<text x="352" y="992" font-size="30.3" textLength="67.5" lengthAdjust="spacingAndGlyphs">T (K)</text>
<g transform="translate(24.3,281.5) rotate(-90)"><text x="0" y="0" font-size="28.5">M (emu/g</text><text x="111.3" y="9.8" font-size="18" textLength="39.5" lengthAdjust="spacingAndGlyphs">FeCo</text><text x="151.2" y="0" font-size="28.5">)</text></g>
<g transform="translate(48.2,789.5) rotate(-90) scale(1,1.14)"><text y="0" font-size="28.5" x="-2.5 22 31.5 39.5 54.4 76.8 94 102.3"><tspan font-size="30.3">M</tspan> (emu/g</text><text x="115.3" y="8.2" font-size="17.2" font-weight="bold" textLength="39.3" lengthAdjust="spacingAndGlyphs">FeCo</text><text x="154.6" y="0" font-size="28.5">)</text></g>
<text x="430.3" y="295.6" font-size="35.8" textLength="252.8" lengthAdjust="spacingAndGlyphs">(Fe<tspan font-size="21.5" dy="13.2">0.69</tspan><tspan dy="-13.2">Co</tspan><tspan font-size="21.5" dy="13.2">0.31</tspan><tspan dy="-13.2">)</tspan><tspan font-size="21.5" dy="13.2">0.6</tspan><tspan dy="-13.2">B</tspan><tspan font-size="21.5" dy="13.2">0.4</tspan></text>
<text x="482.6" y="344.6" font-size="35.8" textLength="147" lengthAdjust="spacingAndGlyphs"><tspan font-style="italic">H</tspan> = 50 Oe</text>
<text x="410.7" y="436.8" font-size="33.8" textLength="272.5" lengthAdjust="spacingAndGlyphs">(a) Dispersed sample</text>
<text x="439" y="881.2" font-size="32.8" textLength="245.5" lengthAdjust="spacingAndGlyphs">(<tspan font-weight="bold">b</tspan>) Powder sample</text>
<g fill="none">
<path d="M382 760.2H412.5M431.2 760.2H461.5" stroke="#f00" stroke-width="1.1" stroke-dasharray="2.4 3.1"/>
<path d="M382 801.7H412.5M431.2 801.7H461.5" stroke="#00f" stroke-width="2.2" stroke-dasharray="2.4 3.1"/>
</g>
<circle cx="422.3" cy="759.5" r="6.5" fill="#f00"/>
<circle cx="422.3" cy="801.8" r="5.6" fill="#fff" stroke="#00f" stroke-width="1.7"/>
<text x="469.5" y="769.2" font-size="31" textLength="211.5" lengthAdjust="spacingAndGlyphs">zero field cooling</text>
<text x="468.8" y="812" font-size="31" textLength="155" lengthAdjust="spacingAndGlyphs">field cooling</text>
</svg>
</body></html>
